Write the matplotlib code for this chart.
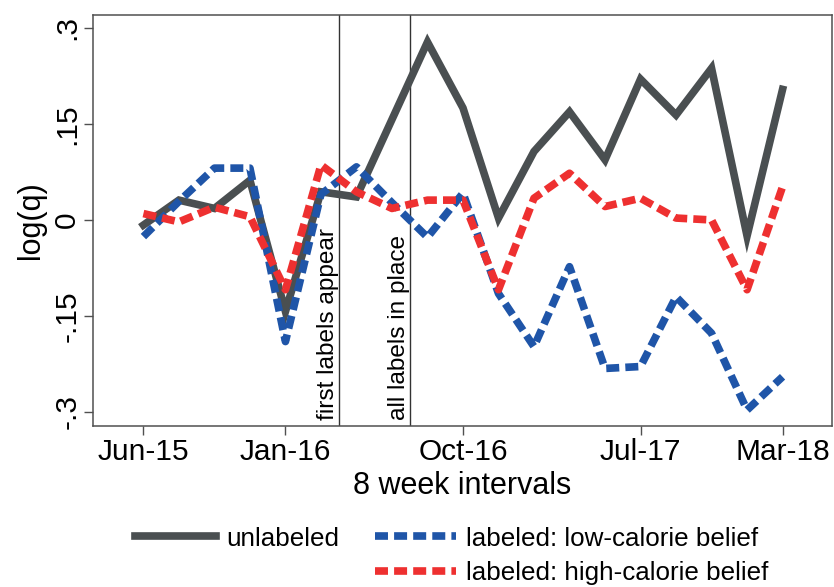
import matplotlib.pyplot as plt
from matplotlib.lines import Line2D
from matplotlib.transforms import blended_transform_factory

# 8 week intervals, Jun-15 .. Mar-18
periods = list(range(19))
tick_pos = [0, 4, 9, 14, 18]
tick_labels = ["Jun-15", "Jan-16", "Oct-16", "Jul-17", "Mar-18"]
ytick_pos = [-0.3, -0.15, 0, 0.15, 0.3]
ytick_labels = ["-.3", "-.15", "0", ".15", ".3"]

unlabeled = [-0.008, 0.031, 0.018, 0.062, -0.143, 0.044, 0.036, 0.157, 0.278,
             0.175, 0.003, 0.107, 0.169, 0.094, 0.220, 0.164, 0.237, -0.025, 0.204]
low_cal = [-0.026, 0.029, 0.081, 0.081, -0.190, 0.040, 0.083, 0.027, -0.027,
           0.042, -0.115, -0.198, -0.073, -0.232, -0.229, -0.120, -0.177, -0.297, -0.245]
high_cal = [0.010, -0.003, 0.020, 0.005, -0.109, 0.086, 0.044, 0.018, 0.031,
            0.031, -0.109, 0.034, 0.073, 0.021, 0.034, 0.003, 0.000, -0.109, 0.052]

events = [5.5, 7.5]
event_labels = ["first labels appear", "all labels in place"]

plt.rcParams["font.family"] = ["Liberation Sans", "DejaVu Sans"]

GRAY = "#4a4f51"
BLUE = "#1f55a8"
RED = "#ee3030"
FRAME = "#505050"

fig = plt.figure(figsize=(8.34, 5.87), dpi=100)
ax = fig.add_axes([0.1115, 0.2743, 0.886, 0.7002])

lw = 5.5
h_unl, = ax.plot(periods, unlabeled, color=GRAY, lw=lw, solid_joinstyle="miter")
h_low, = ax.plot(periods, low_cal, color=BLUE, lw=lw, dashes=(1.7, 0.8))
h_high, = ax.plot(periods, high_cal, color=RED, lw=lw, dashes=(1.7, 0.8))

# event lines
trans = blended_transform_factory(ax.transData, ax.transAxes)
for xe, lab in zip(events, event_labels):
    ax.axvline(xe, color="#333333", lw=1.0, zorder=1)
    ax.text(xe, 0.015, lab, rotation=90, ha="right", va="bottom",
            fontsize=17.6, transform=trans)

ax.set_xlim(-1.42, 19.39)
ax.set_ylim(-0.3219, 0.3203)
ax.set_xticks(tick_pos, tick_labels, fontsize=21.5)
ax.set_yticks(ytick_pos, ytick_labels, fontsize=21.5, rotation=90, va="center")
ax.tick_params(axis="both", length=6.5, width=1.0, color=FRAME)
ax.tick_params(axis="x", pad=2)
ax.tick_params(axis="y", pad=2)
for s in ax.spines.values():
    s.set_color(FRAME)
    s.set_linewidth(1.1)

ax.set_xlabel("8 week intervals", fontsize=22, labelpad=4)
ax.set_ylabel("log(q)", fontsize=22, labelpad=5)

blank = Line2D([], [], linestyle="none")
fig.legend([h_unl, blank, h_low, h_high],
           ["unlabeled", "", "labeled: low-calorie belief", "labeled: high-calorie belief"],
           ncol=2, loc="center", bbox_to_anchor=(452 / 834, 1 - 556 / 587),
           frameon=False, fontsize=18.7, handlelength=3.1, handletextpad=0.4,
           columnspacing=1.4, labelspacing=0.42, borderpad=0)

fig.savefig("out.png", dpi=100)
